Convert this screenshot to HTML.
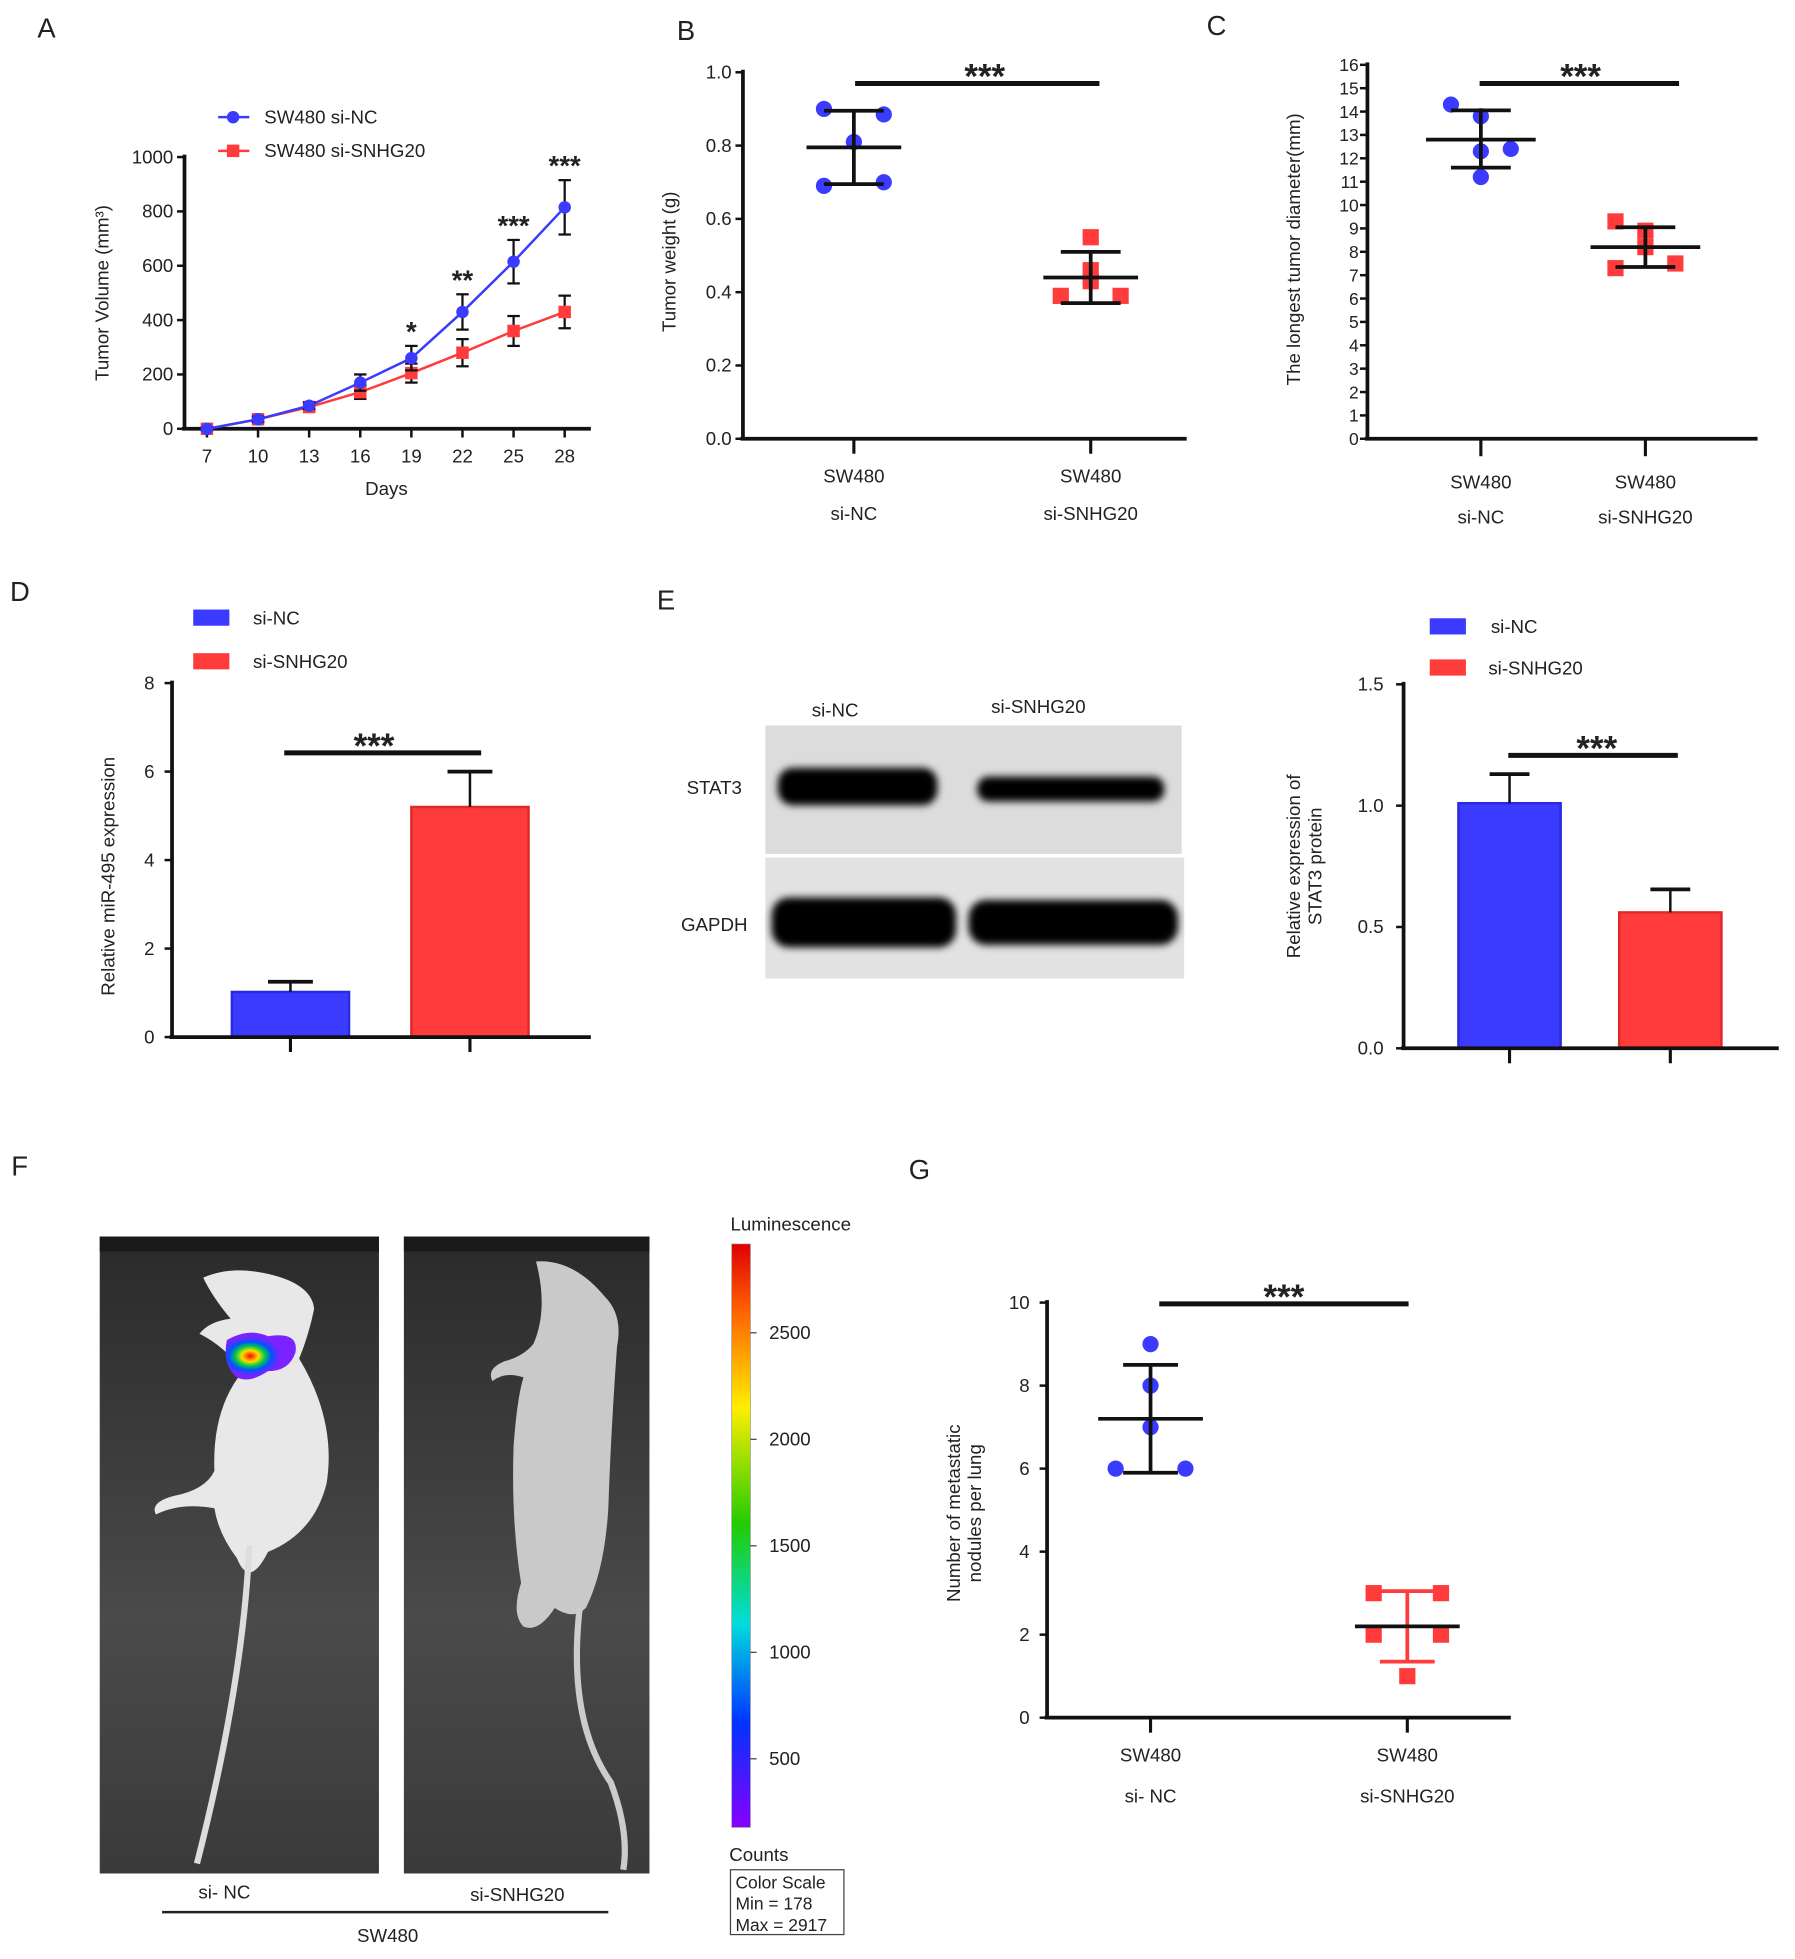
<!DOCTYPE html>
<html><head><meta charset="utf-8"><style>
html,body{margin:0;padding:0;background:#fff;}
svg{display:block;}
text{font-family:"Liberation Sans",Arial,sans-serif;fill:#222;}
</style></head><body>
<svg id="fig" width="1795" height="1959" viewBox="0 0 1440 1571.6" xmlns="http://www.w3.org/2000/svg">
<defs>
<linearGradient id="lum" x1="0" y1="0" x2="0" y2="1">
<stop offset="0" stop-color="#e00000"/><stop offset="0.12" stop-color="#ff6600"/><stop offset="0.28" stop-color="#ffee00"/><stop offset="0.48" stop-color="#22cc00"/><stop offset="0.65" stop-color="#00dddd"/><stop offset="0.82" stop-color="#0033ff"/><stop offset="1" stop-color="#8800ff"/>
</linearGradient>
<radialGradient id="blob" cx="0.35" cy="0.5" r="0.6">
<stop offset="0" stop-color="#ff0000"/><stop offset="0.2" stop-color="#ffdd00"/><stop offset="0.35" stop-color="#00cc44"/><stop offset="0.5" stop-color="#0055ff"/><stop offset="0.7" stop-color="#7a22ff"/><stop offset="1" stop-color="#7a22ff"/>
</radialGradient>
<filter id="bl" x="-20%" y="-50%" width="140%" height="200%"><feGaussianBlur stdDeviation="3"/></filter>
<linearGradient id="floor" x1="0" y1="0" x2="0" y2="1"><stop offset="0" stop-color="#2a2a2a"/><stop offset="0.6" stop-color="#4a4a4a"/><stop offset="1" stop-color="#3a3a3a"/></linearGradient>
</defs>

<!-- Panel labels -->
<text x="30" y="30" font-size="22">A</text>
<text x="543" y="32" font-size="22">B</text>
<text x="968" y="28" font-size="22">C</text>
<text x="8" y="482" font-size="22">D</text>
<text x="527" y="489" font-size="22">E</text>
<text x="9" y="943" font-size="22">F</text>
<text x="729" y="946" font-size="22">G</text>

<!-- Western blot -->
<g>
<text x="670" y="575" font-size="15" text-anchor="middle">si-NC</text>
<text x="833" y="572" font-size="15" text-anchor="middle">si-SNHG20</text>
<rect x="614" y="582" width="334" height="103" fill="#dcdcdc"/>
<rect x="614" y="688" width="336" height="97" fill="#e2e2e2"/>
<g filter="url(#bl)">
<rect x="624" y="616" width="128" height="30" rx="12" fill="#000"/>
<rect x="784" y="623" width="150" height="20" rx="9" fill="#000"/>
<rect x="619" y="720" width="148" height="40" rx="14" fill="#000"/>
<rect x="777" y="722" width="168" height="36" rx="14" fill="#000"/>
</g>
<text x="573" y="637" font-size="15" text-anchor="middle">STAT3</text>
<text x="573" y="747" font-size="15" text-anchor="middle">GAPDH</text>
</g>

<!-- Mice images -->
<g>
<rect x="80" y="992" width="224" height="511" fill="url(#floor)"/>
<rect x="80" y="992" width="224" height="12" fill="#1a1a1a"/>
<path d="M 163 1025 Q 185 1015 215 1022 Q 250 1030 252 1050 Q 248 1070 240 1090 Q 270 1140 262 1190 Q 252 1230 215 1245 Q 200 1275 190 1250 Q 175 1230 172 1210 Q 145 1205 125 1215 Q 120 1205 140 1200 Q 165 1195 172 1180 Q 170 1130 195 1100 Q 180 1080 160 1070 Q 168 1060 185 1058 Q 170 1040 163 1025 Z" fill="#e8e8e8"/>
<path d="M 200 1240 Q 195 1350 158 1495" stroke="#ddd" stroke-width="5" fill="none"/>
<path d="M 182 1075 Q 200 1065 215 1072 Q 240 1068 237 1085 Q 232 1100 215 1100 Q 200 1110 190 1105 Q 178 1095 182 1075 Z" fill="url(#blob)"/>
</g>
<g>
<rect x="324" y="992" width="197" height="511" fill="url(#floor)"/>
<rect x="324" y="992" width="197" height="12" fill="#1a1a1a"/>
<path d="M 430 1012 Q 460 1010 485 1040 Q 500 1055 495 1080 Q 490 1150 488 1210 Q 485 1260 470 1290 Q 460 1300 445 1290 Q 432 1310 420 1305 Q 410 1295 418 1270 Q 410 1220 412 1160 Q 415 1120 420 1105 Q 405 1100 395 1108 Q 390 1098 405 1092 Q 420 1088 428 1078 Q 440 1050 430 1012 Z" fill="#c9c9c9"/>
<path d="M 465 1290 Q 455 1380 490 1430 Q 505 1470 500 1500" stroke="#ccc" stroke-width="5" fill="none"/>
</g>
<text x="180" y="1523" font-size="15" text-anchor="middle">si- NC</text>
<text x="415" y="1525" font-size="15" text-anchor="middle">si-SNHG20</text>
<line x1="130" y1="1534" x2="488" y2="1534" stroke="#222" stroke-width="2"/>
<text x="311" y="1558" font-size="15" text-anchor="middle">SW480</text>

<!-- Color bar -->
<g>
<text x="586" y="987" font-size="15">Luminescence</text>
<rect x="587" y="998" width="15" height="468" fill="url(#lum)" stroke="#888" stroke-width="0.5"/>
<g id="cbticks"></g>
<text x="585" y="1493" font-size="15">Counts</text>
<rect x="586" y="1500" width="91" height="52" fill="#fff" stroke="#444" stroke-width="1"/>
<text x="590" y="1515" font-size="14">Color Scale</text>
<text x="590" y="1532" font-size="14">Min = 178</text>
<text x="590" y="1549" font-size="14">Max = 2917</text>
</g>

<g id="charts"></g>
</svg>
<script>
// ===== Panel A data =====
const aDays = [7, 10, 13, 16, 19, 22, 25, 28];
const aNC = [0, 35, 85, 170, 260, 430, 615, 815];
const aNCerr = [5, 10, 12, 30, 45, 65, 80, 100];
const aSN = [0, 35, 80, 135, 205, 280, 360, 430];
const aSNerr = [5, 10, 10, 25, 35, 50, 55, 60];
const aStars = ["", "", "", "", "*", "**", "***", "***"];
const aYTicks = [0, 200, 400, 600, 800, 1000];
// ===== Panel B data =====
const bNC = [0.90, 0.885, 0.81, 0.69, 0.70];
const bSN = [0.55, 0.46, 0.43, 0.39, 0.39];
const bNCstat = [0.795, 0.895, 0.695];
const bSNstat = [0.44, 0.51, 0.37];
const bYTicks = [0.0, 0.2, 0.4, 0.6, 0.8, 1.0];
// ===== Panel C data =====
const cNC = [14.3, 13.8, 12.4, 12.3, 11.2];
const cSN = [9.3, 8.9, 8.2, 7.3, 7.5];
const cNCstat = [12.8, 14.05, 11.6];
const cSNstat = [8.2, 9.05, 7.35];
const cYTicks = [0,1,2,3,4,5,6,7,8,9,10,11,12,13,14,15,16];
// ===== Panel D data =====
const dVals = [1.02, 5.2];
const dErr = [1.25, 6.0];
const dYTicks = [0, 2, 4, 6, 8];
// ===== Panel E data =====
const eVals = [1.01, 0.56];
const eErr = [1.13, 0.655];
const eYTicks = [0.0, 0.5, 1.0, 1.5];
// ===== Panel G data =====
const gNC = [9, 8, 7, 6, 6];
const gSN = [3, 3, 2, 2, 1];
const gNCstat = [7.2, 8.5, 5.9];
const gSNstat = [2.2, 3.05, 1.35];
const gYTicks = [0, 2, 4, 6, 8, 10];
// ===== colorbar =====
const cbTicks = [2500, 2000, 1500, 1000, 500];

const NS = "http://www.w3.org/2000/svg";
const root = document.getElementById("charts");
const BLUE = "#3b3bff", RED = "#ff3b3b";
function el(tag, attrs, parent, txt) {
  const e = document.createElementNS(NS, tag);
  for (const k in attrs) e.setAttribute(k, attrs[k]);
  if (txt !== undefined) e.textContent = txt;
  (parent || root).appendChild(e);
  return e;
}
function lin(d0, d1, r0, r1) { return v => r0 + (v - d0) * (r1 - r0) / (d1 - d0); }
function group(name) {
  const g = el("g", {}, root);
  
  
  return g;
}
function axes(g, x0, x1, y0, y1, yScale, ticks, fmt, fs, tickLabelX) {
  const ya = el("line", {x1: x0, y1: y0, x2: x0, y2: y1 - 2, stroke: "#111", "stroke-width": 3}, g);
  
  
  const xa = el("line", {x1: x0 - 2, y1: y0, x2: x1, y2: y0, stroke: "#111", "stroke-width": 3}, g);
  
  
  ticks.forEach(t => {
    const y = yScale(t);
    el("line", {x1: x0 - 6, y1: y, x2: x0, y2: y, stroke: "#111", "stroke-width": 2}, g);
    const tx = el("text", {x: tickLabelX !== undefined ? tickLabelX : x0 - 9, y: y + 5, "font-size": fs || 15, "text-anchor": "end"}, g, fmt(t));
    
    
  });
}
function ylabel(g, x, y, lines, fs) {
  lines.forEach((l, i) => {
    const t = el("text", {x: 0, y: 0, "font-size": fs || 15, "text-anchor": "middle", transform: `translate(${x + i * 17},${y}) rotate(-90)`}, g, l);
    
    
  });
}
function sig(g, x1, x2, y, sx) {
  const l = el("line", {x1, y1: y, x2, y2: y, stroke: "#111", "stroke-width": 4}, g);
  
  
  const t = el("text", {x: sx, y: y + 4, "font-size": 28, "font-weight": "bold", "text-anchor": "middle"}, g, "***");
  
  
}
function scatterGroup(g, cx, vals, offs, ys, shape, color, stat, meanW, capW, errColor, name) {
  vals.forEach((v, i) => {
    const x = cx + offs[i], y = ys(v);
    let m;
    if (shape === "circle") m = el("circle", {cx: x, cy: y, r: 6.5, fill: color}, g);
    else m = el("rect", {x: x - 6.5, y: y - 6.5, width: 13, height: 13, fill: color}, g);
    
    
  });
  const ec = errColor || "#111";
  const e1 = el("line", {x1: cx, y1: ys(stat[1]), x2: cx, y2: ys(stat[2]), stroke: ec, "stroke-width": 3}, g);
  
  
  [stat[1], stat[2]].forEach(v => el("line", {x1: cx - capW, y1: ys(v), x2: cx + capW, y2: ys(v), stroke: ec, "stroke-width": 3}, g));
  const m = el("line", {x1: cx - meanW, y1: ys(stat[0]), x2: cx + meanW, y2: ys(stat[0]), stroke: "#111", "stroke-width": 3}, g);
  
  
}
function catLabels(g, xs, y0, tickLen, lines, ly1, ly2) {
  xs.forEach((x, i) => {
    el("line", {x1: x, y1: y0, x2: x, y2: y0 + tickLen, stroke: "#111", "stroke-width": 2.5}, g);
    if (lines) {
      const a = el("text", {x: x, y: ly1, "font-size": 15, "text-anchor": "middle"}, g, lines[i][0]);
      
      
      const b = el("text", {x: x, y: ly2, "font-size": 15, "text-anchor": "middle"}, g, lines[i][1]);
      
      
    }
  });
}

// ===== Panel A =====
(function () {
  const g = group("tumor-volume-chart");
  const xs = lin(7, 28, 166, 453), ys = lin(0, 1000, 344, 126);
  axes(g, 148, 474, 344, 126, ys, aYTicks, v => String(v), 15);
  aDays.forEach(d => {
    el("line", {x1: xs(d), y1: 344, x2: xs(d), y2: 351, stroke: "#111", "stroke-width": 2}, g);
    const t = el("text", {x: xs(d), y: 371, "font-size": 15, "text-anchor": "middle"}, g, String(d));
    
    
  });
  const xt = el("text", {x: 310, y: 397, "font-size": 15, "text-anchor": "middle"}, g, "Days");
  
  
  ylabel(g, 87, 235, ["Tumor Volume (mm³)"], 15);
  function series(vals, errs, color, shape, name) {
    const pts = vals.map((v, i) => xs(aDays[i]) + "," + ys(v)).join(" ");
    const pl = el("polyline", {points: pts, fill: "none", stroke: color, "stroke-width": 2}, g);
    
    
    vals.forEach((v, i) => {
      const x = xs(aDays[i]);
      el("line", {x1: x, y1: ys(v + errs[i]), x2: x, y2: ys(v - errs[i]), stroke: "#111", "stroke-width": 1.8}, g);
      el("line", {x1: x - 5, y1: ys(v + errs[i]), x2: x + 5, y2: ys(v + errs[i]), stroke: "#111", "stroke-width": 1.8}, g);
      el("line", {x1: x - 5, y1: ys(v - errs[i]), x2: x + 5, y2: ys(v - errs[i]), stroke: "#111", "stroke-width": 1.8}, g);
      let m;
      if (shape === "circle") m = el("circle", {cx: x, cy: ys(v), r: 5, fill: color}, g);
      else m = el("rect", {x: x - 5, y: ys(v) - 5, width: 10, height: 10, fill: color}, g);
      
      
    });
  }
  series(aSN, aSNerr, RED, "rect", "si-snhg20");
  series(aNC, aNCerr, BLUE, "circle", "si-nc");
  aStars.forEach((s, i) => {
    if (!s) return;
    const t = el("text", {x: xs(aDays[i]), y: ys(aNC[i] + aNCerr[i]) - 4, "font-size": 22, "font-weight": "bold", "text-anchor": "middle"}, g, s);
    
    
  });
  // legend
  const l1 = el("line", {x1: 175, y1: 94, x2: 200, y2: 94, stroke: BLUE, "stroke-width": 2}, g);
  
  
  el("circle", {cx: 187, cy: 94, r: 5, fill: BLUE}, g);
  el("text", {x: 212, y: 99, "font-size": 15}, g, "SW480 si-NC");
  const l2 = el("line", {x1: 175, y1: 121, x2: 200, y2: 121, stroke: RED, "stroke-width": 2}, g);
  
  
  el("rect", {x: 182, y: 116, width: 10, height: 10, fill: RED}, g);
  el("text", {x: 212, y: 126, "font-size": 15}, g, "SW480 si-SNHG20");
})();

// ===== Panel B =====
(function () {
  const g = group("tumor-weight-chart");
  const ys = lin(0, 1, 352, 58);
  axes(g, 596, 952, 352, 58, ys, bYTicks, v => v.toFixed(1), 15);
  ylabel(g, 542, 210, ["Tumor weight (g)"], 15);
  scatterGroup(g, 685, bNC, [-24, 24, 0, -24, 24], ys, "circle", BLUE, bNCstat, 38, 24, null, "si-nc");
  scatterGroup(g, 875, bSN, [0, 0, 0, -24, 24], ys, "rect", RED, bSNstat, 38, 24, null, "si-snhg20");
  catLabels(g, [685, 875], 352, 12, [["SW480", "si-NC"], ["SW480", "si-SNHG20"]], 387, 417);
  sig(g, 686, 882, 67, 790);
})();

// ===== Panel C =====
(function () {
  const g = group("tumor-diameter-chart");
  const ys = lin(0, 16, 352, 52);
  axes(g, 1097, 1410, 352, 52, ys, cYTicks, v => String(v), 14, 1090);
  ylabel(g, 1043, 200, ["The longest tumor diameter(mm)"], 15);
  scatterGroup(g, 1188, cNC, [-24, 0, 24, 0, 0], ys, "circle", BLUE, cNCstat, 44, 24, null, "si-nc");
  scatterGroup(g, 1320, cSN, [-24, 0, 0, -24, 24], ys, "rect", RED, cSNstat, 44, 24, null, "si-snhg20");
  catLabels(g, [1188, 1320], 352, 14, [["SW480", "si-NC"], ["SW480", "si-SNHG20"]], 392, 420);
  sig(g, 1187, 1347, 67, 1268);
})();

// ===== Panel D =====
(function () {
  const g = group("mir495-expression-chart");
  const ys = lin(0, 8, 832, 548);
  const cx = [233, 377], colors = [BLUE, RED], names = ["si-nc", "si-snhg20"];
  dVals.forEach((v, i) => {
    const b = el("rect", {x: cx[i] - 47, y: ys(v), width: 94, height: ys(0) - ys(v), fill: colors[i], stroke: colors[i] === BLUE ? "#2a2ae0" : "#e02a2a", "stroke-width": 2}, g);
    
    
    el("line", {x1: cx[i], y1: ys(v), x2: cx[i], y2: ys(dErr[i]), stroke: "#111", "stroke-width": 2}, g);
    el("line", {x1: cx[i] - 18, y1: ys(dErr[i]), x2: cx[i] + 18, y2: ys(dErr[i]), stroke: "#111", "stroke-width": 3}, g);
  });
  axes(g, 138, 474, 832, 548, ys, dYTicks, v => String(v), 15, 124);
  catLabels(g, cx, 832, 12, null);
  ylabel(g, 92, 703, ["Relative miR-495 expression"], 15);
  sig(g, 228, 386, 604, 300);
  const r1 = el("rect", {x: 155, y: 489, width: 29, height: 13, fill: BLUE}, g);
  
  
  el("text", {x: 203, y: 501, "font-size": 15}, g, "si-NC");
  const r2 = el("rect", {x: 155, y: 524, width: 29, height: 13, fill: RED}, g);
  
  
  el("text", {x: 203, y: 536, "font-size": 15}, g, "si-SNHG20");
})();

// ===== Panel E bars =====
(function () {
  const g = group("stat3-expression-chart");
  const ys = lin(0, 1.5, 841, 549);
  const cx = [1211, 1340], colors = [BLUE, RED], names = ["si-nc", "si-snhg20"];
  eVals.forEach((v, i) => {
    const b = el("rect", {x: cx[i] - 41, y: ys(v), width: 82, height: ys(0) - ys(v), fill: colors[i], stroke: colors[i] === BLUE ? "#2a2ae0" : "#e02a2a", "stroke-width": 2}, g);
    
    
    el("line", {x1: cx[i], y1: ys(v), x2: cx[i], y2: ys(eErr[i]), stroke: "#111", "stroke-width": 2}, g);
    el("line", {x1: cx[i] - 16, y1: ys(eErr[i]), x2: cx[i] + 16, y2: ys(eErr[i]), stroke: "#111", "stroke-width": 3}, g);
  });
  axes(g, 1126, 1427, 841, 549, ys, eYTicks, v => v.toFixed(1), 15, 1110);
  catLabels(g, cx, 841, 12, null);
  ylabel(g, 1043, 695, ["Relative expression of", "STAT3 protein"], 15);
  sig(g, 1210, 1346, 606, 1281);
  const r1 = el("rect", {x: 1147, y: 496, width: 29, height: 13, fill: BLUE}, g);
  
  
  el("text", {x: 1196, y: 508, "font-size": 15}, g, "si-NC");
  const r2 = el("rect", {x: 1147, y: 529, width: 29, height: 13, fill: RED}, g);
  
  
  el("text", {x: 1194, y: 541, "font-size": 15}, g, "si-SNHG20");
})();

// ===== Panel G =====
(function () {
  const g = group("metastatic-nodules-chart");
  const ys = lin(0, 10, 1378, 1045);
  axes(g, 840, 1212, 1378, 1045, ys, gYTicks, v => String(v), 15, 826);
  ylabel(g, 770, 1214, ["Number of metastatic", "nodules per lung"], 15);
  scatterGroup(g, 923, gNC, [0, 0, 0, -28, 28], ys, "circle", BLUE, gNCstat, 42, 22, null, "si-nc");
  scatterGroup(g, 1129, gSN, [-27, 27, -27, 27, 0], ys, "rect", RED, gSNstat, 42, 22, RED, "si-snhg20");
  catLabels(g, [923, 1129], 1378, 12, [["SW480", "si- NC"], ["SW480", "si-SNHG20"]], 1413, 1446);
  sig(g, 930, 1130, 1046, 1030);
})();

// ===== colorbar ticks =====
(function () {
  const g = document.getElementById("cbticks");
  const ys = lin(178, 2917, 1466, 998);
  cbTicks.forEach(v => {
    el("line", {x1: 602, y1: ys(v), x2: 607, y2: ys(v), stroke: "#444", "stroke-width": 1}, g);
    const t = el("text", {x: 617, y: ys(v) + 5, "font-size": 15}, g, String(v));
    
    
  });
})();
</script>
</body></html>
